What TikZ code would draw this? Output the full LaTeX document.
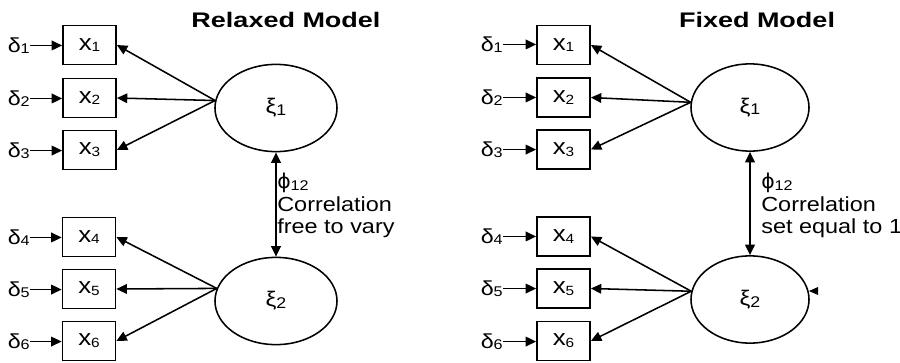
\documentclass[tikz,border=0pt]{standalone}
\usepackage{fontspec}
\setmainfont{Liberation Sans}[FakeStretch=1.15]
\newfontfamily\ttlfont{Liberation Sans}[FakeStretch=1.28]
\newfontfamily\phifont{DejaVu Sans}
\usetikzlibrary{arrows.meta,shapes.geometric}
\newcommand{\sbs}[2][10]{\raisebox{-0.15ex}{\fontsize{#1}{#1}\selectfont #2}}

\begin{document}
\begin{tikzpicture}[x=0.025cm,y=-0.025cm,
  obs/.style={draw, line width=1.1pt, minimum width=1.33cm, minimum height=0.98cm, inner sep=0pt, font=\fontsize{16}{18}\selectfont},
  lat/.style={draw, ellipse, line width=1.1pt, minimum width=3.0cm, minimum height=2.18cm, inner sep=0pt, font=\fontsize{15}{17}\selectfont},
  err/.style={anchor=base east, inner sep=0pt, font=\fontsize{14.4}{16}\selectfont},
  arr/.style={-{Triangle[length=0.26cm,width=0.24cm]}, line width=1.1pt},
  dbl/.style={{Triangle[length=0.26cm,width=0.24cm]}-{Triangle[length=0.26cm,width=0.24cm]}, line width=1.1pt},
  note/.style={anchor=north west, align=left, inner sep=0pt, font=\fontsize{14.5}{16}\selectfont},
  ttl/.style={anchor=base, inner sep=0pt, font=\ttlfont\bfseries\fontsize{15}{18}\selectfont}]
\useasboundingbox (0,0) rectangle (900,362);

\node[ttl] (atitle) at (286,27) {Relaxed Model};
\node[obs] (ax1) at (89.5,45) {x\sbs[9.5]{1}};
\node[obs] (ax2) at (89.5,98) {x\sbs[9.5]{2}};
\node[obs] (ax3) at (89.5,150) {x\sbs[9.5]{3}};
\node[obs] (ax4) at (89,237) {x\sbs[9.5]{4}};
\node[obs] (ax5) at (89,289) {x\sbs[9.5]{5}};
\node[obs] (ax6) at (89,341) {x\sbs[9.5]{6}};
\node[err] (ad1) at (30,52) {δ\sbs{1}};
\node[err] (ad2) at (30,105) {δ\sbs{2}};
\node[err] (ad3) at (30,157) {δ\sbs{3}};
\node[err] (ad4) at (30,244) {δ\sbs{4}};
\node[err] (ad5) at (30,296) {δ\sbs{5}};
\node[err] (ad6) at (30,348) {δ\sbs{6}};
\node[lat, minimum width=3.05cm] (axi1) at (276,108) {ξ\sbs[11]{1}};
\node[lat, minimum width=3.05cm] (axi2) at (276,301) {ξ\sbs[11]{2}};
\node[note] (anote) at (277,173) {{\phifont ϕ}\sbs{12}\\Correlation\\free to vary};
\draw[arr] (ad1.east) -- (ad1.east -| ax1.west);
\draw[arr] (ad2.east) -- (ad2.east -| ax2.west);
\draw[arr] (ad3.east) -- (ad3.east -| ax3.west);
\draw[arr] (ad4.east) -- (ad4.east -| ax4.west);
\draw[arr] (ad5.east) -- (ad5.east -| ax5.west);
\draw[arr] (ad6.east) -- (ad6.east -| ax6.west);
\draw[arr] (axi1.173) -- (ax1.east);
\draw[arr] (axi1.173) -- (ax2.east);
\draw[arr] (axi1.173) -- (ax3.east);
\draw[arr] (axi2.168) -- (ax4.east);
\draw[arr] (axi2.168) -- (ax5.east);
\draw[arr] (axi2.168) -- (ax6.east);
\draw[dbl] (axi1.south) -- (axi2.north);

\node[ttl] (btitle) at (757,27) {Fixed Model};
\node[obs] (bx1) at (563.5,45) {x\sbs[9.5]{1}};
\node[obs] (bx2) at (563.5,97.5) {x\sbs[9.5]{2}};
\node[obs] (bx3) at (563.5,149.5) {x\sbs[9.5]{3}};
\node[obs] (bx4) at (563.5,236.5) {x\sbs[9.5]{4}};
\node[obs] (bx5) at (563.5,288.5) {x\sbs[9.5]{5}};
\node[obs] (bx6) at (563.5,341) {x\sbs[9.5]{6}};
\node[err] (bd1) at (503,51) {δ\sbs{1}};
\node[err] (bd2) at (503,104) {δ\sbs{2}};
\node[err] (bd3) at (503,156) {δ\sbs{3}};
\node[err] (bd4) at (503,243) {δ\sbs{4}};
\node[err] (bd5) at (503,295) {δ\sbs{5}};
\node[err] (bd6) at (503,348) {δ\sbs{6}};
\node[lat, minimum width=2.95cm] (bxi1) at (750,107.5) {ξ\sbs[11]{1}};
\node[lat, minimum width=2.95cm] (bxi2) at (750,299.5) {ξ\sbs[11]{2}};
\node[note] (bnote) at (761,173) {{\phifont ϕ}\sbs{12}\\Correlation\\set equal to 1};
\draw[arr] (bd1.east) -- (bd1.east -| bx1.west);
\draw[arr] (bd2.east) -- (bd2.east -| bx2.west);
\draw[arr] (bd3.east) -- (bd3.east -| bx3.west);
\draw[arr] (bd4.east) -- (bd4.east -| bx4.west);
\draw[arr] (bd5.east) -- (bd5.east -| bx5.west);
\draw[arr] (bd6.east) -- (bd6.east -| bx6.west);
\draw[arr] (bxi1.175) -- (bx1.east);
\draw[arr] (bxi1.175) -- (bx2.east);
\draw[arr] (bxi1.175) -- (bx3.east);
\draw[arr] (bxi2.172) -- (bx4.east);
\draw[arr] (bxi2.172) -- (bx5.east);
\draw[arr] (bxi2.172) -- (bx6.east);
\draw[dbl] (bxi1.south) -- (bxi2.north);
\fill (818,287) -- (809,291) -- (818,295) -- cycle;
\end{tikzpicture}
\end{document}
